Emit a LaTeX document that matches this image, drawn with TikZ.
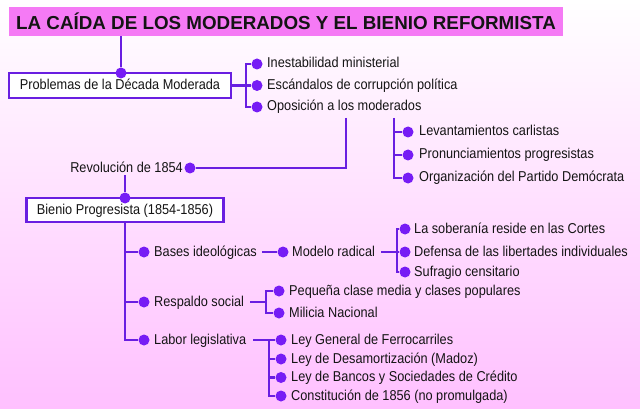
\documentclass[tikz,border=0pt]{standalone}
\usepackage{fontspec}
\setmainfont{Liberation Sans}
\newfontfamily\cndfont[FakeStretch=0.89]{Liberation Sans}
\usetikzlibrary{calc}
\definecolor{lnc}{RGB}{105,30,225}
\definecolor{dotc}{RGB}{118,28,245}
\definecolor{ttl}{RGB}{245,122,245}
\definecolor{bgp}{RGB}{255,192,255}
\definecolor{txt}{RGB}{20,20,20}
\begin{document}
\begin{tikzpicture}[x=1pt,y=-1pt,
  conn/.style={draw=lnc, line width=2.3pt},
  dotn/.style={circle, fill=dotc, inner sep=0pt, minimum size=11pt},
  itm/.style={anchor=west, inner xsep=0pt, inner ysep=0pt, text height=11pt, text depth=3pt, font=\cndfont\fontsize{14.3}{16}\selectfont, text=txt},
  boxn/.style={draw=lnc, line width=2.3pt, fill=white, inner sep=0pt, text height=11pt, text depth=3pt, font=\cndfont\fontsize{14.3}{16}\selectfont, text=txt}
]
\useasboundingbox (0,0) rectangle (640,409);
\fill[top color=white, bottom color=bgp] (0,0) rectangle (640,409);

% title
\node[fill=ttl, minimum width=554pt, minimum height=29pt, inner sep=0pt, text=txt,
      font=\bfseries\fontsize{18.8}{22}\selectfont] (title) at (286,21.5)
      {LA CAÍDA DE LOS MODERADOS Y EL BIENIO REFORMISTA};

% Problemas
\node[boxn, minimum width=222pt, minimum height=25pt] (prob) at (120,85.5) {Problemas de la Década Moderada};
\node[dotn] (d0) at (121,73) {};
\draw[conn] (title.south -| d0) -- (d0);

\node[dotn] (dIne) at (257,64) {};
\node[dotn] (dEsc) at (257,85.5) {};
\node[dotn] (dOpo) at (257,107) {};
\node[itm] (ine) at (267,64) {Inestabilidad ministerial};
\node[itm] (esc) at (267,85.5) {Escándalos de corrupción política};
\node[itm] (opo) at (267,107) {Oposición a los moderados};
\coordinate (brkP) at (246,85.5);
\draw[conn] (prob.east) -- (dEsc);
\draw[conn] (dIne) -| (brkP) |- (dOpo);

% Revolucion
\coordinate (revtop) at (346,118);
\node[dotn] (dRev) at (190,168) {};
\node[itm, anchor=east] (rev) at (183,168) {Revolución de 1854};
\draw[conn] (revtop) |- (dRev);

\coordinate (levtop) at (394,118);
\node[dotn] (dLev) at (408,132) {};
\node[dotn] (dPro) at (408,155) {};
\node[dotn] (dOrg) at (408,178) {};
\node[itm] (lev) at (419,132) {Levantamientos carlistas};
\node[itm] (pro) at (419,155) {Pronunciamientos progresistas};
\node[itm] (org) at (419,178) {Organización del Partido Demócrata};
\draw[conn] (levtop) |- (dOrg);
\draw[conn] (levtop |- dLev) -- (dLev);
\draw[conn] (levtop |- dPro) -- (dPro);

% Bienio
\node[boxn, minimum width=197pt, minimum height=24pt] (bien) at (125,210) {Bienio Progresista (1854-1856)};
\node[dotn] (dBien) at (125,198) {};
\draw[conn] (dBien |- rev.south) -- (dBien);

\node[dotn] (dBas) at (144,252) {};
\node[dotn] (dRes) at (144,302) {};
\node[dotn] (dLab) at (144,340) {};
\node[itm] (bas) at (154,252) {Bases ideológicas};
\node[itm] (res) at (154,302) {Respaldo social};
\node[itm] (lab) at (154,340) {Labor legislativa};
\draw[conn] (bien.south) |- (dLab);
\draw[conn] (bien.south |- dBas) -- (dBas);
\draw[conn] (bien.south |- dRes) -- (dRes);

% Modelo radical
\node[dotn] (dMod) at (283,252) {};
\node[itm] (mod) at (292,252) {Modelo radical};
\draw[conn] ($(bas.east)+(5,0)$) -- (dMod);
\node[dotn] (dSob) at (405,229) {};
\node[dotn] (dDef) at (405,252) {};
\node[dotn] (dSuf) at (405,272) {};
\node[itm] (sob) at (414,229) {La soberanía reside en las Cortes};
\node[itm] (def) at (414,252) {Defensa de las libertades individuales};
\node[itm] (suf) at (414,272) {Sufragio censitario};
\coordinate (brkM) at (397,252);
\draw[conn] ($(mod.east)+(6,0)$) -- (dDef);
\draw[conn] (dSob) -| (brkM) |- (dSuf);

% Respaldo
\node[dotn] (dPeq) at (279,291) {};
\node[dotn] (dMil) at (279,313) {};
\node[itm] (peq) at (289,291) {Pequeña clase media y clases populares};
\node[itm] (mil) at (289,313) {Milicia Nacional};
\coordinate (brkR) at (266,302);
\draw[conn] ($(res.east)+(6,0)$) -- (brkR);
\draw[conn] (dPeq) -| (brkR) |- (dMil);

% Labor
\node[dotn] (dL1) at (281,340) {};
\node[dotn] (dL2) at (281,359) {};
\node[dotn] (dL3) at (281,377.5) {};
\node[dotn] (dL4) at (281,396) {};
\node[itm] (l1) at (291,340) {Ley General de Ferrocarriles};
\node[itm] (l2) at (291,359) {Ley de Desamortización (Madoz)};
\node[itm] (l3) at (291,377.5) {Ley de Bancos y Sociedades de Crédito};
\node[itm] (l4) at (291,396) {Constitución de 1856 (no promulgada)};
\coordinate (brkL) at (269,340);
\draw[conn] ($(lab.east)+(7,0)$) -- (dL1);
\draw[conn] (brkL) |- (dL4);
\draw[conn] (brkL |- dL2) -- (dL2);
\draw[conn] (brkL |- dL3) -- (dL3);
\end{tikzpicture}
\end{document}
